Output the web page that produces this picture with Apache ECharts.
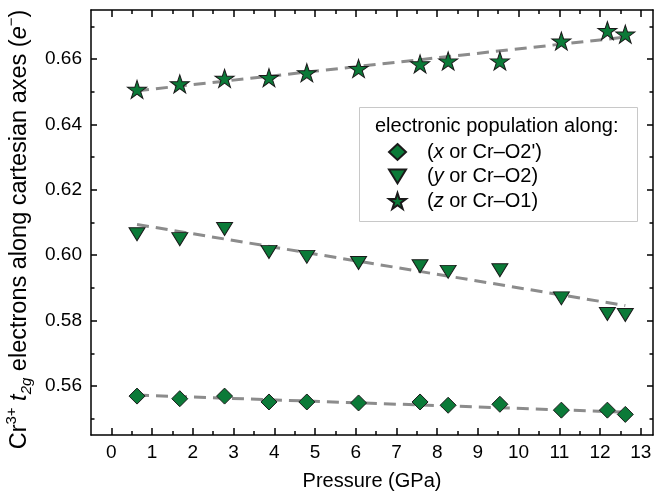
<!DOCTYPE html>
<html><head><meta charset="utf-8">
<script src="https://cdn.jsdelivr.net/npm/echarts@6/dist/echarts.min.js"></script>
<style>html,body{margin:0;padding:0;background:#fff}#c{width:656px;height:498px}</style>
</head><body><div id="c"></div>
<script>
// ---- data ----
const pressure = [0.63, 1.68, 2.78, 3.87, 4.80, 6.07, 7.58, 8.27, 9.54, 11.05, 12.18, 12.62];
const popX = [0.5569, 0.5561, 0.5569, 0.5551, 0.5551, 0.5548, 0.5551, 0.5541, 0.5544, 0.5526, 0.5526, 0.5513];
const popY = [0.6064, 0.6049, 0.6080, 0.6010, 0.5995, 0.5976, 0.5966, 0.5949, 0.5954, 0.5868, 0.5820, 0.5817];
const popZ = [0.6507, 0.6524, 0.6541, 0.6543, 0.6558, 0.6571, 0.6585, 0.6594, 0.6594, 0.6655, 0.6687, 0.6676];
const fitPressure = [0.63, 12.62];
const fitX = [0.5572, 0.5520];
const fitY = [0.6094, 0.5846];
const fitZ = [0.6503, 0.6667];
const xMajor = [0,1,2,3,4,5,6,7,8,9,10,11,12,13];
const xMinor = [0.5,1.5,2.5,3.5,4.5,5.5,6.5,7.5,8.5,9.5,10.5,11.5,12.5];
const yMajor = [0.56,0.58,0.60,0.62,0.64,0.66];
const yMinor = [0.55,0.57,0.59,0.61,0.63,0.65,0.67];
const seriesNames = ['x','y','z'];
const legendTitle = 'electronic population along:';
const xName = 'Pressure (GPa)';

// ---- styling ----
const FONT = '"Liberation Sans", Arial, sans-serif';
const GREEN = '#0b7a38';
const STAR = 'path://M0,-100L22.45,-30.9L95.1,-30.9L36.33,11.8L58.78,80.9L0,38.2L-58.78,80.9L-36.33,11.8L-95.1,-30.9L-22.45,-30.9Z';
const TRI = 'path://M0,0L16,0L8,13Z';
const XMIN = -0.5, XMAX = 13.3, YMIN = 0.545, YMAX = 0.675;

function pairs(xs, ys){ return xs.map((x,i)=>[x, ys[i]]); }

function xa(pos, ticks, len, labels, showLine){
  return {type:'value', position:pos, min:XMIN, max:XMAX,
    axisLine:{show:showLine, onZero:false, lineStyle:{color:'#000', width:1.5}},
    axisTick:{show:true, inside:true, length:len, customValues:ticks, lineStyle:{color:'#000', width:1.5}},
    axisLabel: labels ? {show:true, customValues:xMajor, margin:8, fontSize:19, color:'#000', fontFamily:FONT} : {show:false},
    splitLine:{show:false}};
}
function ya(pos, ticks, len, labels, showLine){
  return {type:'value', position:pos, min:YMIN, max:YMAX,
    axisLine:{show:showLine, onZero:false, lineStyle:{color:'#000', width:1.5}},
    axisTick:{show:true, inside:true, length:len, customValues:ticks, lineStyle:{color:'#000', width:1.5}},
    axisLabel: labels ? {show:true, customValues:yMajor, margin:9, fontSize:19, color:'#000', fontFamily:FONT,
      formatter:v=>v.toFixed(2)} : {show:false},
    splitLine:{show:false}};
}

const xAxes = [xa('bottom', xMajor, 7, true, true), xa('bottom', xMinor, 4, false, false),
               xa('top', xMajor, 7, false, true), xa('top', xMinor, 4, false, false)];
xAxes[0].name = xName; xAxes[0].nameLocation='middle'; xAxes[0].nameGap=36;
xAxes[0].nameTextStyle = {fontSize:20, color:'#000', fontFamily:FONT};
const yAxes = [ya('left', yMajor, 6, true, true), ya('left', yMinor, 3.5, false, false),
               ya('right', yMajor, 6, false, true), ya('right', yMinor, 3.5, false, false)];
yAxes[0].name = '{n|Cr}{sup|3+}{n| }{it|t}{sub|2g}{n| electrons along cartesian axes (}{it|e}{sup|−}{n|)}';
yAxes[0].nameLocation='middle'; yAxes[0].nameGap=54; yAxes[0].nameRotate=90;
yAxes[0].nameTextStyle = {fontSize:23.5, color:'#000', fontFamily:FONT, padding:[0,14,0,0], rich:{
  n:{fontSize:23.5, lineHeight:30, fontFamily:FONT, color:'#000'},
  it:{fontSize:23.5, lineHeight:30, fontStyle:'italic', fontFamily:FONT, color:'#000'},
  sup:{fontSize:15, lineHeight:15, verticalAlign:'top', fontFamily:FONT, color:'#000'},
  sub:{fontSize:15, lineHeight:15, verticalAlign:'bottom', fontStyle:'italic', fontFamily:FONT, color:'#000'}
}};

const legendLabels = {
  x: "{g|}({i|x} or Cr–O2')",
  y: "{g|}({i|y} or Cr–O2)",
  z: "{g|}({i|z} or Cr–O1)"
};
const markStyle = {color:GREEN, borderColor:'#1a1a1a', borderWidth:1, opacity:1};
const fitStyle = {color:'#8c8c8c', width:3, type:[12,7]};

const chart = echarts.init(document.getElementById('c'), null, {renderer:'canvas'});
chart.setOption({
  animation:false,
  backgroundColor:'#fff',
  grid:{left:91, top:10, right:3, bottom:63, containLabel:false, outerBoundsMode:'none'},
  xAxis:xAxes,
  yAxis:yAxes,
  graphic:[
    {type:'rect', left:359, top:107, z:3, shape:{width:278, height:114},
     style:{fill:'#fff', stroke:'#c8c8c8', lineWidth:1}},
    {type:'text', left:375, top:116, z:4, style:{text:legendTitle, fontSize:20, fontFamily:FONT, fill:'#000'}}
  ],
  legend:{
    data:seriesNames, orient:'vertical', left:388, top:141, z:5, padding:0,
    itemWidth:17, itemHeight:16, itemGap:2.5,
    formatter:name=>legendLabels[name],
    textStyle:{fontSize:20, fontFamily:FONT, color:'#000', lineHeight:22,
      rich:{g:{width:16}, i:{fontStyle:'italic', fontSize:20, fontFamily:FONT}}}
  },
  series:[
    {type:'line', data:pairs(fitPressure, fitX), symbol:'none', lineStyle:fitStyle, z:1, silent:true},
    {type:'line', data:pairs(fitPressure, fitY), symbol:'none', lineStyle:fitStyle, z:1, silent:true},
    {type:'line', data:pairs(fitPressure, fitZ), symbol:'none', lineStyle:fitStyle, z:1, silent:true},
    {name:'x', type:'scatter', data:pairs(pressure, popX), symbol:'diamond', symbolSize:[16,16], itemStyle:markStyle, z:3},
    {name:'y', type:'scatter', data:pairs(pressure, popY), symbol:TRI, symbolSize:[16,13], itemStyle:markStyle, z:3},
    {name:'z', type:'scatter', data:pairs(pressure, popZ), symbol:STAR, symbolSize:[19,18], itemStyle:markStyle, z:3}
  ]
});
</script>
</body></html>
